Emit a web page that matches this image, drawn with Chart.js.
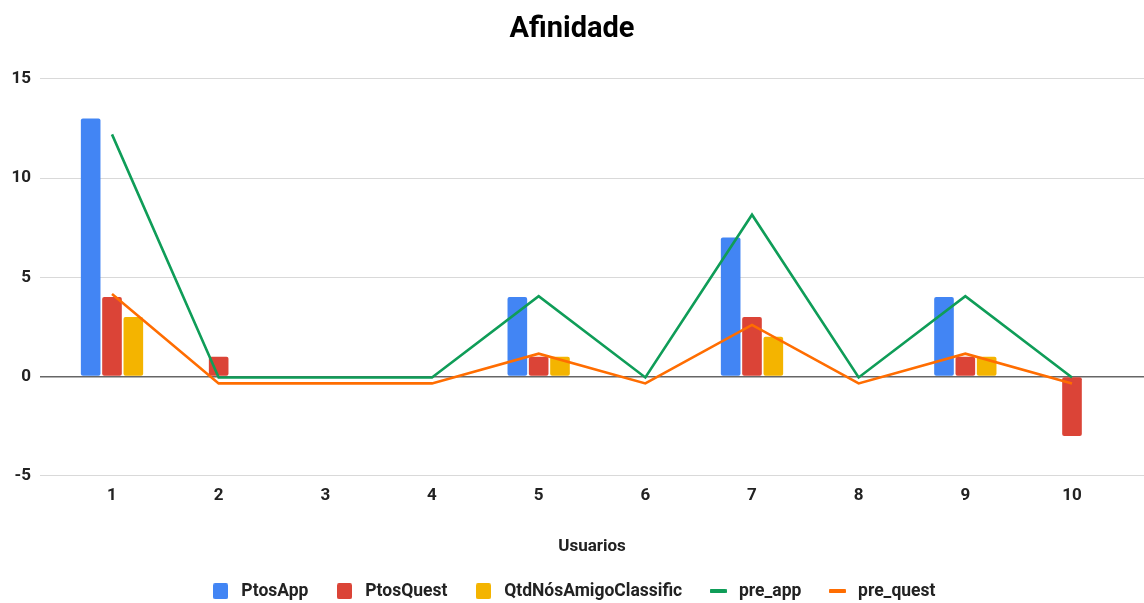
<!DOCTYPE html>
<html>
<head>
<meta charset="utf-8">
<script src="https://cdn.jsdelivr.net/npm/chart.js@4.4.1/dist/chart.umd.min.js"></script>
<style>
  html, body { margin: 0; padding: 0; background: #fff; }
  #wrap { width: 1144px; height: 603px; position: relative; }
</style>
</head>
<body>
<div id="wrap"><canvas id="chart"></canvas></div>
<script>
// Users on the horizontal axis
const usuarios = [1, 2, 3, 4, 5, 6, 7, 8, 9, 10];
const usuarioLabels = ['1', '2', '3', '4', '5', '6', '7', '8', '9', '10'];

// Bar series
const ptosApp = [13, 0, 0, 0, 4, 0, 7, 0, 4, 0];
const ptosQuest = [4, 1, 0, 0, 1, 0, 3, 0, 1, -3];
const qtdNosAmigoClassific = [3, 0, 0, 0, 1, 0, 2, 0, 1, 0];

// Line series
const preApp = [12.2, -0.05, -0.05, -0.05, 4.05, -0.05, 8.15, -0.05, 4.05, -0.05];
const preQuest = [4.15, -0.35, -0.35, -0.35, 1.15, -0.35, 2.6, -0.35, 1.15, -0.35];

// Value axis ticks
const yTicks = [-5, 0, 5, 10, 15];

const FONT = 'Roboto';
const pts = (vals) => usuarios.map((u, i) => ({ x: u, y: vals[i] }));

// Small canvases used as legend markers
function marker(w, h, color, radius) {
  const c = document.createElement('canvas');
  c.width = w; c.height = h;
  const g = c.getContext('2d');
  g.fillStyle = color;
  g.beginPath();
  if (g.roundRect) g.roundRect(0, 0, w, h, radius); else g.rect(0, 0, w, h);
  g.fill();
  return c;
}

const barDefaults = {
  type: 'bar',
  categoryPercentage: 0.6,
  barPercentage: 0.92,
  borderRadius: 2,
  borderSkipped: false,
  order: 2
};
const lineDefaults = {
  type: 'line',
  borderWidth: 2.6,
  pointRadius: 0,
  pointHoverRadius: 0,
  tension: 0,
  fill: false,
  order: 1
};

new Chart(document.getElementById('chart'), {
  data: {
    datasets: [
      { ...barDefaults, label: 'PtosApp', data: pts(ptosApp), backgroundColor: '#4285F4' },
      { ...barDefaults, label: 'PtosQuest', data: pts(ptosQuest), backgroundColor: '#DB4437' },
      { ...barDefaults, label: 'QtdNósAmigoClassific', data: pts(qtdNosAmigoClassific), backgroundColor: '#F4B400' },
      { ...lineDefaults, label: 'pre_app', data: pts(preApp), borderColor: '#0F9D58', backgroundColor: '#0F9D58' },
      { ...lineDefaults, label: 'pre_quest', data: pts(preQuest), borderColor: '#FF6D01', backgroundColor: '#FF6D01' }
    ]
  },
  options: {
    responsive: true,
    maintainAspectRatio: false,
    animation: false,
    layout: { padding: { left: 0, right: 0, top: 0, bottom: -7 } },
    plugins: {
      title: {
        display: true,
        text: 'Afinidade',
        color: '#000',
        font: { family: FONT, size: 29, weight: 'bold' },
        padding: { top: 12, bottom: 32 }
      },
      legend: {
        position: 'bottom',
        labels: {
          usePointStyle: true,
          boxHeight: 16,
          pointStyleWidth: 24,
          padding: 24,
          color: '#222',
          font: { family: FONT, size: 17.5, weight: 'bold' },
          sort: (a, b) => a.datasetIndex - b.datasetIndex,
          generateLabels: (chart) => {
            const items = Chart.defaults.plugins.legend.labels.generateLabels(chart);
            return items.map((it) => {
              const ds = chart.data.datasets[it.datasetIndex];
              it.pointStyle = ds.type === 'line'
                ? marker(17, 4, ds.borderColor, 1)
                : marker(15, 16, ds.backgroundColor, 2);
              it.lineWidth = 0;
              return it;
            });
          }
        }
      },
      tooltip: { enabled: false }
    },
    scales: {
      x: {
        type: 'linear',
        offset: false,
        min: usuarios[0] - 0.675,
        max: usuarios[usuarios.length - 1] + 0.675,
        afterBuildTicks: (scale) => {
          scale.ticks = usuarios.map((v) => ({ value: v }));
        },
        ticks: {
          autoSkip: false,
          maxRotation: 0,
          padding: 10,
          color: '#222',
          font: { family: FONT, size: 17, weight: 'bold' },
          callback: (v) => usuarioLabels[usuarios.indexOf(v)]
        },
        grid: { display: false, drawTicks: false },
        border: { display: false },
        title: {
          display: true,
          text: 'Usuarios',
          color: '#222',
          font: { family: FONT, size: 17, weight: 'bold' },
          padding: { top: 20, bottom: 2 }
        }
      },
      y: {
        min: yTicks[0],
        max: yTicks[yTicks.length - 1],
        afterBuildTicks: (scale) => {
          scale.ticks = yTicks.map((v) => ({ value: v }));
        },
        afterFit: (scale) => { scale.width = 40; },
        ticks: {
          padding: 9,
          color: '#222',
          font: { family: FONT, size: 17, weight: 'bold' }
        },
        grid: {
          drawTicks: false,
          color: (ctx) => (ctx.tick && ctx.tick.value === 0 ? '#666' : '#d9d9d9'),
          lineWidth: (ctx) => (ctx.tick && ctx.tick.value === 0 ? 1.5 : 1)
        },
        border: { display: false }
      }
    }
  }
});
</script>
</body>
</html>
